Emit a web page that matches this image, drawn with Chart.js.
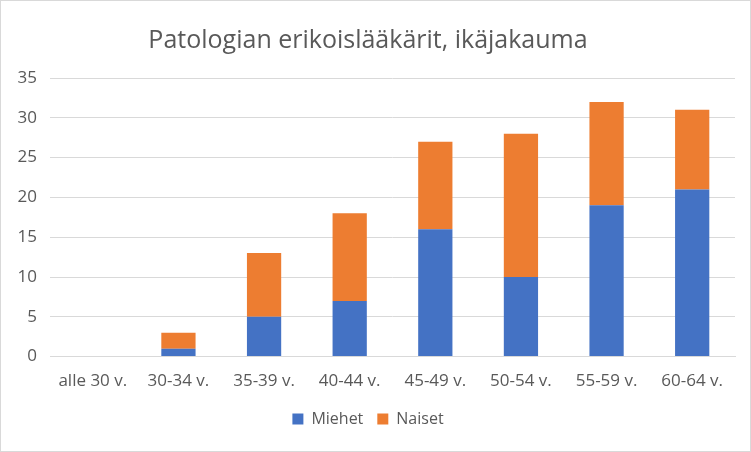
<!DOCTYPE html>
<html>
<head>
<meta charset="utf-8">
<script src="https://cdn.jsdelivr.net/npm/chart.js@4.4.0/dist/chart.umd.min.js"></script>
<style>
  html, body { margin: 0; padding: 0; background: #fff; }
  .wrap { width: 751px; height: 452px; box-sizing: border-box; border: 1px solid #d9d9d9; position: relative; }
</style>
</head>
<body>
<div class="wrap">
  <canvas id="myChart" width="749" height="450"></canvas>
</div>
<script>
const categories = ['alle 30 v.', '30-34 v.', '35-39 v.', '40-44 v.', '45-49 v.', '50-54 v.', '55-59 v.', '60-64 v.'];
const miehet = [0, 1, 5, 7, 16, 10, 19, 21];
const naiset = [0, 2, 8, 11, 11, 18, 13, 10];
const yTicks = [0, 5, 10, 15, 20, 25, 30, 35];

const fontFamily = "'Open Sans', 'Liberation Sans', sans-serif";
const textColor = '#595959';

const ctx = document.getElementById('myChart').getContext('2d');
new Chart(ctx, {
  type: 'bar',
  data: {
    labels: categories,
    datasets: [
      {
        label: 'Miehet',
        data: miehet,
        backgroundColor: '#4472C4',
        barPercentage: 0.8,
        categoryPercentage: 0.5,
      },
      {
        label: 'Naiset',
        data: naiset,
        backgroundColor: '#ED7D31',
        barPercentage: 0.8,
        categoryPercentage: 0.5,
      },
    ],
  },
  options: {
    responsive: false,
    animation: false,
    layout: {padding: {left: 0, right: 15, top: 8, bottom: 14}},
    plugins: {
      title: {
        display: true,
        text: 'Patologian erikoislääkärit, ikäjakauma',
        color: textColor,
        font: {family: fontFamily, size: 25, weight: 'normal'},
        padding: {top: 17, bottom: 22},
      },
      legend: {
        position: 'bottom',
        labels: {
          color: textColor,
          font: {family: fontFamily, size: 16},
          boxWidth: 11,
          boxHeight: 11,
          padding: 14,
        },
      },
      tooltip: {enabled: false},
    },
    scales: {
      x: {
        stacked: true,
        grid: {display: false},
        border: {color: '#d9d9d9'},
        ticks: {color: textColor, font: {family: fontFamily, size: 17}, padding: 6, maxRotation: 0},
      },
      y: {
        stacked: true,
        min: 0,
        max: 35,
        afterBuildTicks: (axis) => { axis.ticks = yTicks.map(v => ({value: v})); },
        afterFit: (axis) => { axis.width = 49; },
        grid: {color: '#d9d9d9', drawTicks: false},
        border: {display: false},
        ticks: {color: textColor, font: {family: fontFamily, size: 17}, padding: 13},
      },
    },
  },
});
</script>
</body>
</html>
